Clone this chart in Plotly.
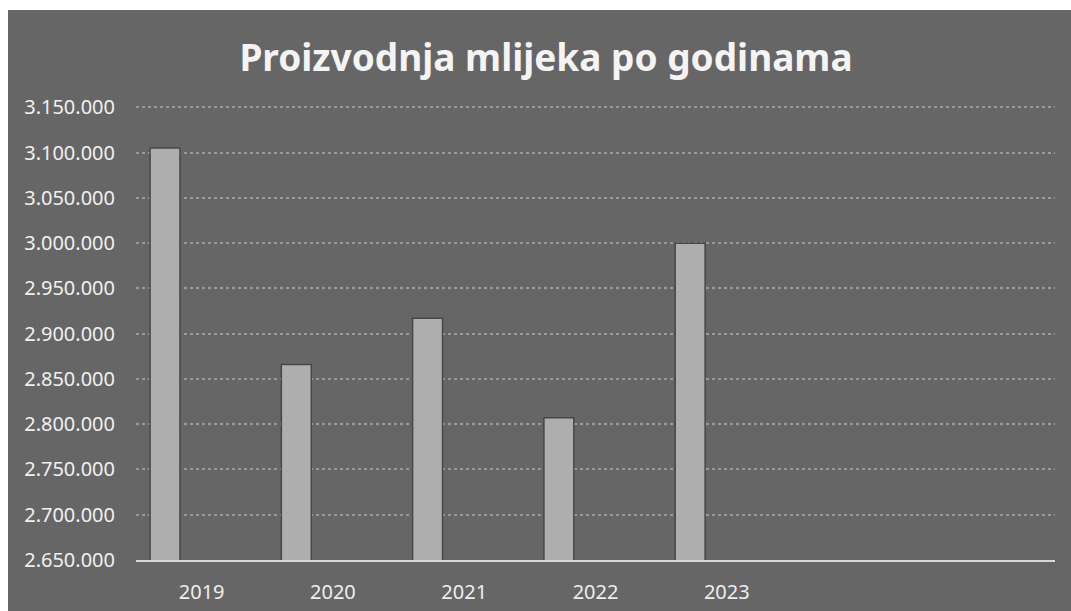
import plotly.graph_objects as go

years = ["2019", "2020", "2021", "2022", "2023"]
production = [3105000, 2866000, 2917000, 2807000, 3000000]
n_slots = 7  # the chart leaves two empty category slots to the right
y_ticks = [2650000 + 50000 * i for i in range(11)]
y_labels = [f"{v:,}".replace(",", ".") for v in y_ticks]

BG = "#666666"
BAR = "#aeaeae"

fig = go.Figure()
fig.add_trace(go.Bar(
    x=list(range(len(years))),
    y=production,
    base=0,
    width=0.228,
    offset=-0.393,
    marker=dict(color=BAR, line=dict(color="#474747", width=1.5)),
    hoverinfo="x+y",
))

# figure is a bit larger than the window; the overflow is cut off so the
# grey background runs to the right and bottom edges like the scan
fig.update_layout(
    width=1080, height=620,
    margin=dict(l=128, r=33, t=96, b=70),
    paper_bgcolor=BG, plot_bgcolor=BG,
    showlegend=False,
    title=dict(
        text="<b>Proizvodnja mlijeka po godinama</b>",
        x=538 / 1080, xanchor="center", y=1 - 48 / 620, yanchor="middle",
        font=dict(family="Noto Sans", size=37, color="#f4f4f4"),
    ),
    font=dict(family="Noto Sans", color="#eeeeee"),
)
fig.update_xaxes(
    range=[-0.5, n_slots - 0.5],
    tickvals=list(range(len(years))), ticktext=years,
    tickfont=dict(size=20, color="#eeeeee"),
    showgrid=False, zeroline=False,
    showline=True, linecolor="#d8d8d8", linewidth=2,
    ticks="", ticklabelstandoff=13,
)
fig.update_yaxes(
    range=[2650000, 3151500],
    tickvals=y_ticks, ticktext=y_labels,
    tickfont=dict(size=20, color="#f0f0f0"),
    showgrid=True, gridcolor="#9a9a9a", griddash="dot", gridwidth=1.5,
    zeroline=False, showline=False,
    ticks="", ticklabelstandoff=20,
)

# white strip only along the top and left edge, like the scanned original
page_css = ("document.body.style.margin='10px 0 0 8px';"
            "document.documentElement.style.overflow='hidden';"
            "document.body.style.overflow='hidden';")
fig.write_html("out.html", post_script=page_css)
